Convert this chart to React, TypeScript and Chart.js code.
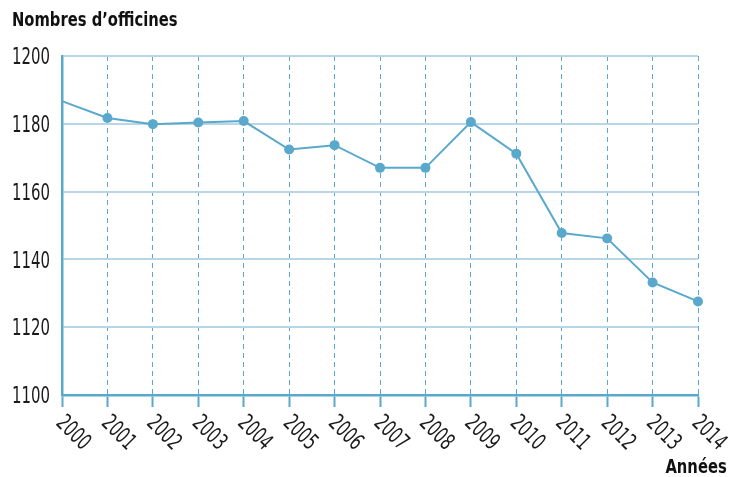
import React, { useEffect, useRef } from "react";
import { Chart, registerables } from "chart.js";

Chart.register(...registerables);

const years = ["2000","2001","2002","2003","2004","2005","2006","2007","2008","2009","2010","2011","2012","2013","2014"];
const officines = [1186.7, 1181.7, 1179.9, 1180.4, 1180.8, 1172.4, 1173.7, 1167, 1167, 1180.5, 1171.2, 1147.8, 1146.2, 1133.2, 1127.6];
const yTicks = [1100, 1120, 1140, 1160, 1180, 1200];
const yTitle = "Nombres d’officines";
const xTitle = "Années";

const FONT = '"Liberation Sans Narrow", "DejaVu Sans Condensed", "Liberation Sans", sans-serif';
const LINE = "#5aa9cc";
const GRID_H = "#b8d7e6";
const TEXT = "#1a1a1a";
const LABEL_SIZE = 23;
const LABEL_W = 38; // target width of a 4-digit label

export default function App() {
  const ref = useRef<HTMLCanvasElement | null>(null);
  useEffect(() => {
    document.body.style.margin = "0";
    const labels = {
      id: "customLabels",
      afterDraw(chart: any) {
        const { ctx, scales } = chart;
        const xs = scales.x;
        const ys = scales.y;
        const { bottom, left } = chart.chartArea;
        ctx.save();
        ctx.fillStyle = TEXT;
        ctx.font = `${LABEL_SIZE}px ${FONT}`;
        const sx = LABEL_W / ctx.measureText("1100").width;
        const capH = LABEL_SIZE * 0.72;
        ctx.textBaseline = "alphabetic";
        // y labels
        ctx.textAlign = "right";
        yTicks.forEach((v) => {
          const y = ys.getPixelForValue(v);
          ctx.save();
          ctx.translate(left - 12, y + capH / 2);
          ctx.scale(sx, 1);
          ctx.fillText(String(v), 0, 0);
          ctx.restore();
        });
        // x labels, rotated 45deg clockwise
        ctx.textAlign = "left";
        years.forEach((lab, i) => {
          const x = xs.getPixelForValue(i);
          ctx.save();
          ctx.translate(x - 7, bottom + 29);
          ctx.rotate(Math.PI / 4);
          ctx.scale(sx, 1);
          ctx.fillText(lab, 0, 0);
          ctx.restore();
        });
        ctx.restore();
      },
    };
    const chart = new Chart(ref.current!, {
      type: "line",
      data: {
        labels: years,
        datasets: [
          {
            data: officines,
            borderColor: LINE,
            backgroundColor: LINE,
            borderWidth: 2,
            pointRadius: officines.map((_, i) => (i === 0 ? 0 : 5)),
            pointHoverRadius: 5,
            pointBorderWidth: 0,
            tension: 0,
            clip: false as any,
          },
        ],
      },
      options: {
        responsive: false,
        animation: false,
        layout: { padding: { left: 0, top: 56, right: 31, bottom: 0 } },
        plugins: { legend: { display: false }, tooltip: { enabled: false } },
        scales: {
          x: {
            type: "category",
            offset: false,
            grid: {
              color: LINE,
              lineWidth: 1,
              drawTicks: true,
              tickLength: 12,
              tickColor: LINE,
              tickWidth: 2,
              tickBorderDash: [],
            } as any,
            border: { display: true, color: LINE, width: 2.5, dash: [5, 4] } as any,
            ticks: { display: false },
            afterFit: (s: any) => {
              s.height = 82;
            },
          },
          y: {
            min: 1100,
            max: 1200,
            afterBuildTicks: (s: any) => {
              s.ticks = yTicks.map((v) => ({ value: v }));
            },
            grid: { color: GRID_H, lineWidth: 2, drawTicks: false },
            border: { display: true, color: LINE, width: 2.5 },
            ticks: { display: false },
            afterFit: (s: any) => {
              s.width = 62;
            },
          },
        },
      },
      plugins: [labels],
    });
    return () => chart.destroy();
  }, []);
  const titleStyle: React.CSSProperties = {
    position: "absolute",
    fontFamily: FONT,
    fontWeight: "bold",
    fontSize: 20,
    color: "#111",
    lineHeight: "22px",
    whiteSpace: "nowrap",
  };
  return (
    <div style={{ position: "relative", width: 729, height: 477 }}>
      <canvas ref={ref} width={729} height={477} style={{ display: "block" }} />
      <div
        style={{
          ...titleStyle,
          left: 12,
          top: 8,
          transform: "scaleX(0.82)",
          transformOrigin: "left top",
        }}
      >
        {yTitle}
      </div>
      <div
        style={{
          ...titleStyle,
          right: 2,
          top: 455,
          transform: "scaleX(0.82)",
          transformOrigin: "right top",
        }}
      >
        {xTitle}
      </div>
    </div>
  );
}
